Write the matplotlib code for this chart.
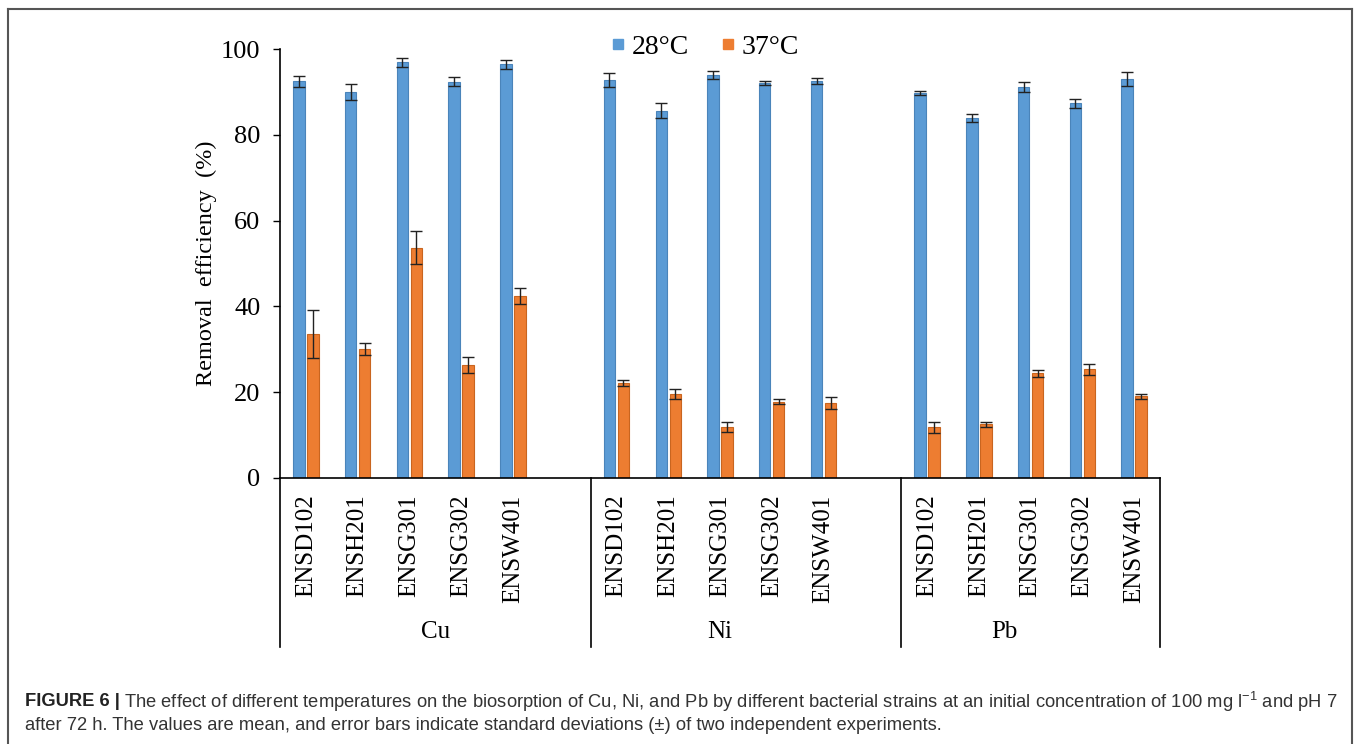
import matplotlib
matplotlib.use("Agg")
import matplotlib.pyplot as plt
from matplotlib.lines import Line2D
import numpy as np

# ---------------- data ----------------
metals = ["Cu", "Ni", "Pb"]
strains = ["ENSD102", "ENSH201", "ENSG301", "ENSG302", "ENSW401"]

t28_cu = [92.5, 90.0, 96.9, 92.4, 96.4]
t28_ni = [92.7, 85.6, 93.9, 92.1, 92.5]
t28_pb = [89.7, 83.9, 91.2, 87.3, 93.0]

t37_cu = [33.5, 30.1, 53.7, 26.3, 42.4]
t37_ni = [22.1, 19.6, 11.9, 17.8, 17.4]
t37_pb = [11.8, 12.5, 24.4, 25.3, 19.0]

e28_cu = [1.3, 1.8, 1.0, 1.1, 1.0]
e28_ni = [1.6, 1.8, 1.0, 0.5, 0.7]
e28_pb = [0.5, 0.9, 1.2, 1.1, 1.6]

e37_cu = [5.6, 1.4, 3.9, 1.9, 1.8]
e37_ni = [0.7, 1.1, 1.2, 0.6, 1.4]
e37_pb = [1.3, 0.5, 0.8, 1.2, 0.5]

series_labels = ["28°C", "37°C"]
yticks = [0, 20, 40, 60, 80, 100]

# ---------------- figure ----------------
W, H = 1357, 744
fig = plt.figure(figsize=(W / 100, H / 100), dpi=100)
serif = "Liberation Serif"
plt.rcParams["mathtext.fontset"] = "custom"
plt.rcParams["mathtext.rm"] = "Liberation Sans"
plt.rcParams["mathtext.it"] = "Liberation Sans:italic"

x0, x1 = 280, 1160
ytop, ybot = 49, 478
ax = fig.add_axes([x0 / W, 1 - ybot / H, (x1 - x0) / W, (ybot - ytop) / H])

# positions: 5 strains per metal, blank slot between metals
positions = []
for g in range(3):
    positions.append([g * 6 + i for i in range(5)])

v28 = [t28_cu, t28_ni, t28_pb]
v37 = [t37_cu, t37_ni, t37_pb]
er28 = [e28_cu, e28_ni, e28_pb]
er37 = [e37_cu, e37_ni, e37_pb]

bw = 0.22
off = 0.135
blue, blue_e = "#5B9BD5", "#4A84BA"
orange, orange_e = "#ED7D31", "#C9651F"
ekw = dict(ecolor="#222222", elinewidth=1.0, capsize=4, capthick=1.0)

for g in range(3):
    p = np.array(positions[g], dtype=float)
    ax.bar(p - off, v28[g], bw, color=blue, edgecolor=blue_e, linewidth=0.8,
           yerr=er28[g], error_kw=ekw, zorder=2)
    ax.bar(p + off, v37[g], bw, color=orange, edgecolor=orange_e, linewidth=0.8,
           yerr=er37[g], error_kw=ekw, zorder=2)

ax.set_xlim(-0.5, 16.5)
ax.set_ylim(0, 100)
ax.set_yticks(yticks)
ax.set_yticklabels([str(t) for t in yticks], fontsize=19, family=serif)
ax.tick_params(axis="y", direction="out", length=5, width=1, pad=9, colors="black")

all_pos = [q for grp in positions for q in grp]
ax.set_xticks(all_pos)
ax.set_xticklabels(strains * 3, rotation=90, fontsize=18, family=serif, va="top")
ax.tick_params(axis="x", length=0, pad=12)

for s in ["top", "right"]:
    ax.spines[s].set_visible(False)
ax.spines["left"].set_linewidth(1.2)
ax.spines["bottom"].set_linewidth(1.2)

ax.set_ylabel("Removal  efficiency  (%)", fontsize=17.5, family=serif, labelpad=3)

# group separators and labels
sep_y = -(647 - ybot) / (ybot - ytop)
trans = ax.get_xaxis_transform()
for xs in [-0.5, 5.5, 11.5, 16.5]:
    ax.add_line(Line2D([xs, xs], [0, sep_y], transform=trans, color="black",
                       lw=1.2, clip_on=False))
lab_y = -(632 - ybot) / (ybot - ytop)
for g, m in enumerate(metals):
    lo = -0.5 if g == 0 else positions[g][0] - 1.5
    hi = positions[g][-1] + (1.5 if g < 2 else 0.5)
    ax.text((lo + hi) / 2, lab_y, m, transform=trans, ha="center", va="center",
            fontsize=18, family=serif)

# legend
handles = [Line2D([], [], marker="s", linestyle="none", markersize=7,
                  markerfacecolor=blue, markeredgecolor=blue),
           Line2D([], [], marker="s", linestyle="none", markersize=7,
                  markerfacecolor=orange, markeredgecolor=orange)]
leg = fig.legend(handles, series_labels, loc="center", ncol=2,
                 bbox_to_anchor=(704 / W, 1 - 47 / H), frameon=False,
                 prop={"family": serif, "size": 20}, handlelength=0.6,
                 handletextpad=0.2, columnspacing=1.1, borderaxespad=0)

# border
bc = "#555555"
fig.add_artist(Line2D([8 / W, 8 / W], [0, 1 - 9 / H], transform=fig.transFigure,
                      color=bc, lw=1.5))
fig.add_artist(Line2D([8 / W, 1352 / W], [1 - 9 / H, 1 - 9 / H], transform=fig.transFigure,
                      color=bc, lw=1.5))
fig.add_artist(Line2D([1352 / W, 1352 / W], [0, 1 - 9 / H], transform=fig.transFigure,
                      color=bc, lw=1.5))

# caption
cap_col = "#333333"
cap_fs = 13.2
r = fig.canvas.get_renderer()
t1 = fig.text(25 / W, 1 - 702 / H, "FIGURE 6 |", fontsize=cap_fs, fontweight="bold",
              family="Liberation Sans", color="#222222", va="center", ha="left")
bb = t1.get_window_extent(renderer=r)
fig.text((bb.x1 + 4) / W, 1 - 702 / H,
         r"The effect of different temperatures on the biosorption of Cu, Ni, and Pb by different bacterial strains at an initial concentration of 100 mg l$^{-1}$ and pH 7",
         fontsize=cap_fs, family="Liberation Sans", color=cap_col, va="center", ha="left")
fig.text(25 / W, 1 - 725 / H,
         "after 72 h. The values are mean, and error bars indicate standard deviations (±) of two independent experiments.",
         fontsize=cap_fs, family="Liberation Sans", color=cap_col, va="center", ha="left")

fig.savefig("out.png", dpi=100)
